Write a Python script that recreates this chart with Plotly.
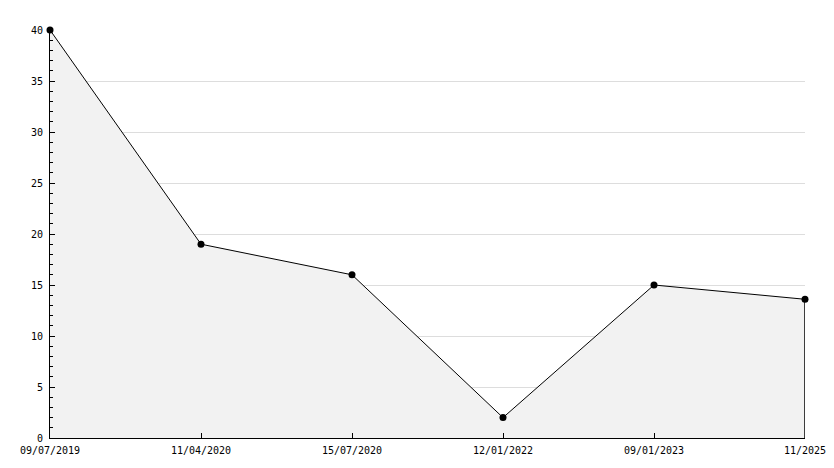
import plotly.graph_objects as go

dates = ["09/07/2019", "11/04/2020", "15/07/2020", "12/01/2022", "09/01/2023", "11/2025"]
values = [40, 19, 16, 2, 15, 13.6]

font = dict(family="DejaVu Sans Mono", size=10, color="#000000")

fig = go.Figure()
fig.add_trace(go.Scatter(
    x=dates, y=values, mode="lines+markers",
    fill="tozeroy", fillcolor="#f2f2f2",
    line=dict(color="#000000", width=1),
    marker=dict(symbol="circle", size=7, color="#000000"),
    hoverinfo="skip", showlegend=False, cliponaxis=False,
))
# right edge of the filled area
fig.add_trace(go.Scatter(
    x=[dates[-1], dates[-1]], y=[0, values[-1]], mode="lines",
    line=dict(color="#000000", width=1.5),
    hoverinfo="skip", showlegend=False, cliponaxis=False,
))

fig.update_layout(
    width=834, height=468,
    margin=dict(l=50, r=29, t=30, b=30),
    paper_bgcolor="#ffffff", plot_bgcolor="#ffffff",
    font=font,
    xaxis=dict(
        type="category", range=[0, len(dates) - 1],
        showline=True, linecolor="#000000", linewidth=1,
        ticks="inside", ticklen=5, tickcolor="#000000",
        showgrid=False, zeroline=False, tickfont=font,
        ticklabelstandoff=3, automargin=False,
    ),
    yaxis=dict(
        range=[0, 40], dtick=5, tick0=0,
        showline=True, linecolor="#000000", linewidth=1,
        ticks="inside", ticklen=5, tickcolor="#000000",
        showgrid=True, gridcolor="#dddddd", gridwidth=1,
        zeroline=False, tickfont=font, ticklabelstandoff=4,
        automargin=False,
        minor=dict(dtick=1, ticks="inside", ticklen=3, tickcolor="#000000", showgrid=False),
    ),
)

fig.write_html(
    "out.html",
    config={"displayModeBar": False, "staticPlot": True},
    post_script="document.body.style.margin='0';document.body.style.padding='0';",
)
